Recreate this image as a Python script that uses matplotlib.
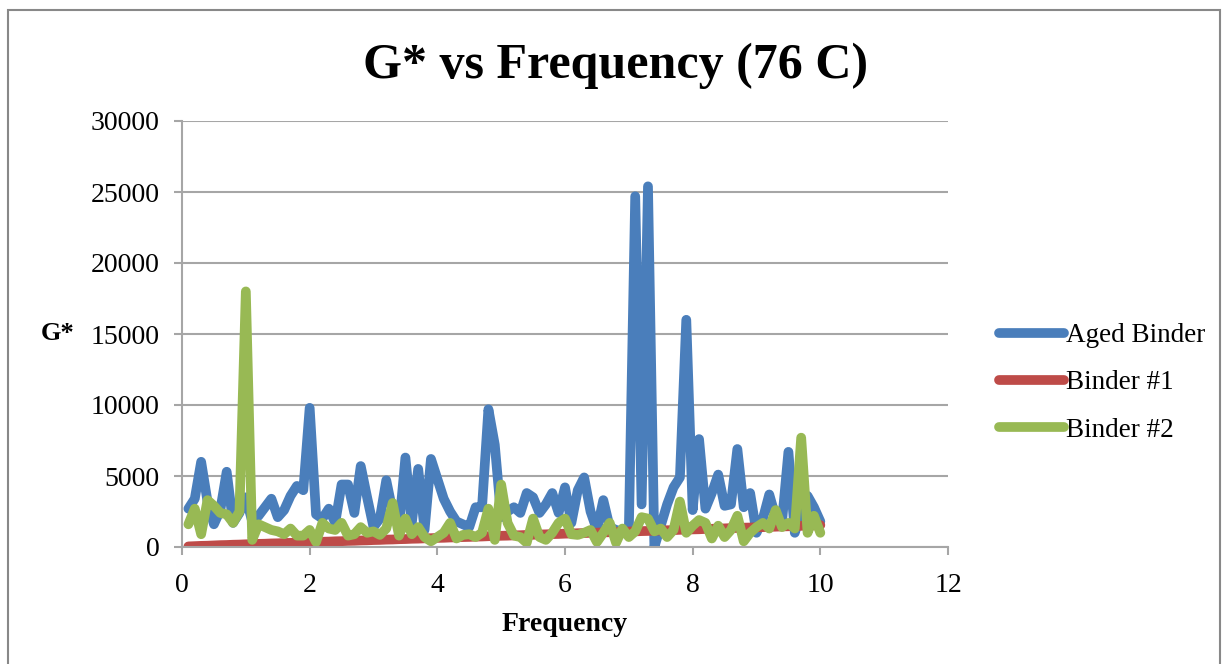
import matplotlib
matplotlib.use("Agg")
import matplotlib.pyplot as plt
from matplotlib.patches import Rectangle
import numpy as np


FREQUENCY = [round(0.1 * i, 1) for i in range(1, 101)]

AGED_BINDER = [
    2700, 3400, 6000, 3200, 1600, 2600, 5300, 1700, 2400, 3500,
    1800, 2200, 2800, 3400, 2100, 2600, 3600, 4300, 4000, 9800,
    2300, 2000, 2700, 1700, 4400, 4400, 2400, 5700, 3500, 1400,
    2000, 4700, 2500, 1400, 6300, 1700, 5500, 1200, 6200, 4800,
    3400, 2500, 1800, 1600, 1400, 2800, 2800, 9700, 7200, 2100,
    2500, 2800, 2400, 3800, 3500, 2400, 3000, 3800, 2400, 4200,
    1700, 4000, 4900, 2500, 1200, 3300, 1400, 1200, 1100, 1200,
    24700, 3000, 25400, 0, 1500, 3000, 4200, 4900, 16000, 2600,
    7600, 2700, 3800, 5100, 2900, 3000, 6900, 2800, 3800, 1000,
    2000, 3700, 2100, 1800, 6700, 1000, 2500, 3600, 2800, 1800,
]

BINDER_1 = [
    40, 60, 80, 90, 110, 130, 140, 160, 170, 190,
    200, 220, 230, 250, 260, 280, 290, 310, 320, 340,
    350, 370, 380, 400, 410, 430, 440, 460, 470, 490,
    500, 520, 530, 550, 560, 580, 590, 610, 620, 640,
    650, 670, 680, 700, 710, 730, 740, 760, 770, 790,
    800, 820, 830, 850, 860, 880, 890, 910, 920, 940,
    950, 970, 980, 1000, 1010, 1030, 1040, 1060, 1070, 1090,
    1100, 1120, 1130, 1150, 1160, 1180, 1190, 1210, 1220, 1240,
    1250, 1270, 1280, 1300, 1310, 1330, 1340, 1360, 1370, 1390,
    1400, 1420, 1430, 1450, 1460, 1480, 1490, 1510, 1520, 1540,
]

BINDER_2 = [
    1600, 2700, 900, 3300, 2900, 2400, 2300, 1700, 2500, 18000,
    500, 1600, 1400, 1200, 1100, 900, 1300, 800, 800, 1200,
    350, 1700, 1300, 1200, 1700, 800, 900, 1400, 1000, 1100,
    850, 1300, 3100, 800, 2000, 900, 1400, 700, 400, 700,
    1000, 1700, 600, 850, 900, 700, 1000, 2700, 500, 4400,
    1700, 800, 700, 300, 2000, 700, 500, 1000, 1700, 2000,
    900, 850, 1000, 1200, 350, 1000, 1700, 300, 1300, 700,
    1100, 2100, 2000, 1100, 1300, 700, 1200, 3200, 1000, 1500,
    1900, 1700, 600, 1500, 700, 1200, 2200, 400, 1000, 1400,
    1700, 1300, 2600, 1400, 1700, 1300, 7700, 1000, 2200, 1000,
]

SERIES_NAMES = ["Aged Binder", "Binder #1", "Binder #2"]
SERIES_COLORS = ["#4A7EBB", "#BE4B48", "#98B954"]

FONT = "Liberation Serif"
GRID_COLOR = "#A6A6A6"
W, H = 1227, 664


def main():
    fig = plt.figure(figsize=(W / 100, H / 100), dpi=100)
    ax = fig.add_axes([182 / W, 1 - 547 / H, (948 - 182) / W, (547 - 121) / H])

    # outer chart border
    fig.patches.append(
        Rectangle(
            (8 / W, -0.05), 1212 / W, 1.05 - 10 / H,
            transform=fig.transFigure, fill=False,
            edgecolor="#888888", linewidth=1.5,
        )
    )

    for values, name, color in zip([AGED_BINDER, BINDER_1, BINDER_2], SERIES_NAMES, SERIES_COLORS):
        ax.plot(FREQUENCY, values, color=color, linewidth=7, label=name,
                solid_joinstyle="round", solid_capstyle="round")

    ax.set_xlim(0, 12)
    ax.set_ylim(0, 30000)
    ax.set_xticks(np.arange(0, 13, 2))
    ax.set_yticks(np.arange(0, 30001, 5000))
    ax.yaxis.grid(True, color=GRID_COLOR, linewidth=1.5)
    ax.set_axisbelow(True)

    for side in ["top", "right"]:
        ax.spines[side].set_visible(False)
    for side in ["left", "bottom"]:
        ax.spines[side].set_color(GRID_COLOR)
        ax.spines[side].set_linewidth(1.5)

    ax.tick_params(axis="both", colors=GRID_COLOR, length=6, width=1.5, labelsize=20)
    for label in ax.get_xticklabels() + ax.get_yticklabels():
        label.set_color("black")
        label.set_fontfamily(FONT)
    ax.tick_params(axis="y", pad=10)
    ax.tick_params(axis="x", pad=13)

    fig.text(616 / W, 1 - 66 / H, "G* vs Frequency (76 C)", fontsize=36,
             fontweight="bold", fontfamily=FONT, ha="center", va="center")
    ax.set_xlabel("Frequency", fontsize=20, fontweight="bold", fontfamily=FONT, labelpad=10)
    fig.text(58 / W, 1 - 333 / H, "G*", fontsize=19, fontweight="bold",
             fontfamily=FONT, ha="center", va="center")

    ax.legend(
        loc="center left", bbox_to_anchor=(1.035, 0.385), frameon=False,
        prop={"family": FONT, "size": 19.5}, handlelength=2.4, handletextpad=0.05,
        labelspacing=0.82,
    )

    fig.savefig("out.png", dpi=100)


if __name__ == "__main__":
    main()
